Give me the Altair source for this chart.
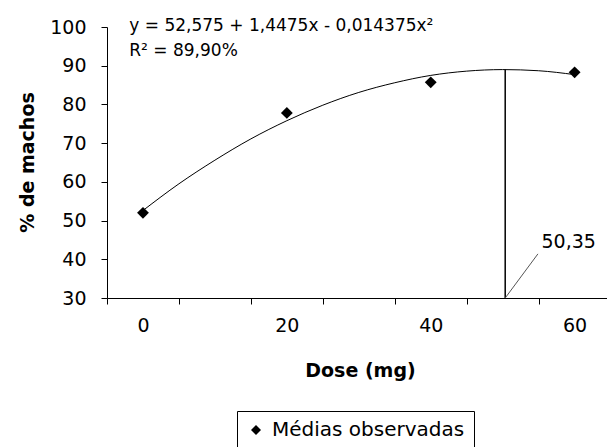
import altair as alt
import pandas as pd

# observed means
dose = [0, 20, 40, 60]
medias = [52.0, 77.8, 85.7, 88.3]
serie = ["Médias observadas"] * 4

# fitted quadratic curve
curve_x = [0, 5, 10, 15, 20, 25, 30, 35, 40, 45, 50, 55, 60]
curve_y = [52.6, 59.5, 65.6, 71.1, 75.8, 79.8, 83.1, 85.6, 87.5, 88.6, 89.0, 88.7, 87.7]

# optimum dose marker
dose_otima = [50.35]
otima_top = [89.0]
otima_base = [30]
leader_x2 = [54.9]
leader_y2 = [41.4]
otima_label = ["50,35"]
otima_label_x = [55.4]
otima_label_y = [44.5]

# equation text
eq_text = ["y = 52,575 + 1,4475x - 0,014375x²", "R² = 89,90%"]
eq_x = [-1.9, -1.9]
eq_y = [100.2, 93.8]

x_tick_values = [-5, 0, 5, 15, 20, 25, 35, 40, 45, 55, 60]
y_tick_values = [30, 40, 50, 60, 70, 80, 90, 100]

FONT = "DejaVu Sans"

xscale = alt.Scale(domain=[-5, 64.5], nice=False, zero=False)
yscale = alt.Scale(domain=[30, 100], nice=False, zero=False)

x_axis = alt.Axis(
    values=x_tick_values,
    labelExpr="datum.value % 20 === 0 ? datum.label : ''",
    tickOpacity={"condition": {"test": "datum.value % 10 === 0", "value": 0}, "value": 1},
    grid=False, domainColor="black", tickColor="black", tickSize=6,
    labelFont=FONT, labelFontSize=19, labelColor="black", labelPadding=12,
    labelOverlap=False, labelFlush=False, labelBound=False,
    title="Dose (mg)", titleFont=FONT, titleFontSize=19, titleFontWeight="bold",
    titleColor="black", titleX=253, titleY=72, titleAlign="center",
    titleBaseline="middle", titleAnchor="start",
)
y_axis = alt.Axis(
    values=y_tick_values, grid=False, domainColor="black", tickColor="black",
    tickSize=6, labelFont=FONT, labelFontSize=19, labelColor="black",
    labelPadding=15, labelOverlap=False, labelFlush=False, labelBound=False,
    title="% de machos", titleFont=FONT, titleFontSize=19, titleFontWeight="bold",
    titleColor="black", titleX=-80, titleY=135, titleAngle=270,
    titleAlign="center", titleBaseline="middle", titleAnchor="start",
)

pts = pd.DataFrame({"dose": dose, "media": medias, "serie": serie})
curve = pd.DataFrame({"dose": curve_x, "y": curve_y})
vline = pd.DataFrame({"x": dose_otima, "y": otima_base, "y2": otima_top})
leader = pd.DataFrame({"x": dose_otima, "y": otima_base, "x2": leader_x2, "y2": leader_y2})
lbl = pd.DataFrame({"x": otima_label_x, "y": otima_label_y, "t": otima_label})
eq = pd.DataFrame({"x": eq_x, "y": eq_y, "t": eq_text})


def X(field):
    return alt.X(field, scale=xscale, axis=x_axis)


def Y(field):
    return alt.Y(field, scale=yscale, axis=y_axis)


curve_layer = alt.Chart(curve).mark_line(color="black", strokeWidth=1, interpolate="monotone").encode(
    x=X("dose:Q"), y=Y("y:Q"),
)

vline_layer = alt.Chart(vline).mark_rule(color="black", strokeWidth=1.5).encode(
    x=X("x:Q"), y=Y("y:Q"), y2="y2:Q"
)

leader_layer = alt.Chart(leader).mark_rule(color="#555555", strokeWidth=1).encode(
    x=X("x:Q"), y=Y("y:Q"), x2="x2:Q", y2="y2:Q"
)

lbl_layer = alt.Chart(lbl).mark_text(
    align="left", baseline="middle", font=FONT, fontSize=19, color="black"
).encode(x=X("x:Q"), y=Y("y:Q"), text="t:N")

eq_layer = alt.Chart(eq).mark_text(
    align="left", baseline="middle", font=FONT, fontSize=17, color="black"
).encode(x=X("x:Q"), y=Y("y:Q"), text="t:N")

pts_layer = alt.Chart(pts).mark_point(filled=True, size=140, opacity=1, color="black").encode(
    x=X("dose:Q"),
    y=Y("media:Q"),
    shape=alt.Shape(
        "serie:N",
        scale=alt.Scale(range=["diamond"]),
        legend=alt.Legend(
            title=None, orient="none", legendX=130, legendY=384,
            strokeColor="black", fillColor="white", padding=9,
            labelFont=FONT, labelFontSize=20, labelColor="black", labelLimit=0,
            symbolSize=100, symbolType="diamond", symbolFillColor="black",
            symbolStrokeWidth=0, labelOffset=6,
        ),
    ),
)

chart = alt.layer(
    curve_layer, vline_layer, leader_layer, lbl_layer, eq_layer, pts_layer
).properties(
    width=500, height=271,
    padding={"left": 107, "top": 27, "right": 0, "bottom": 149},
    autosize="none",
).configure(background="white").configure_view(stroke=None)

chart.save("out.html", embed_options={"renderer": "svg", "actions": False})
